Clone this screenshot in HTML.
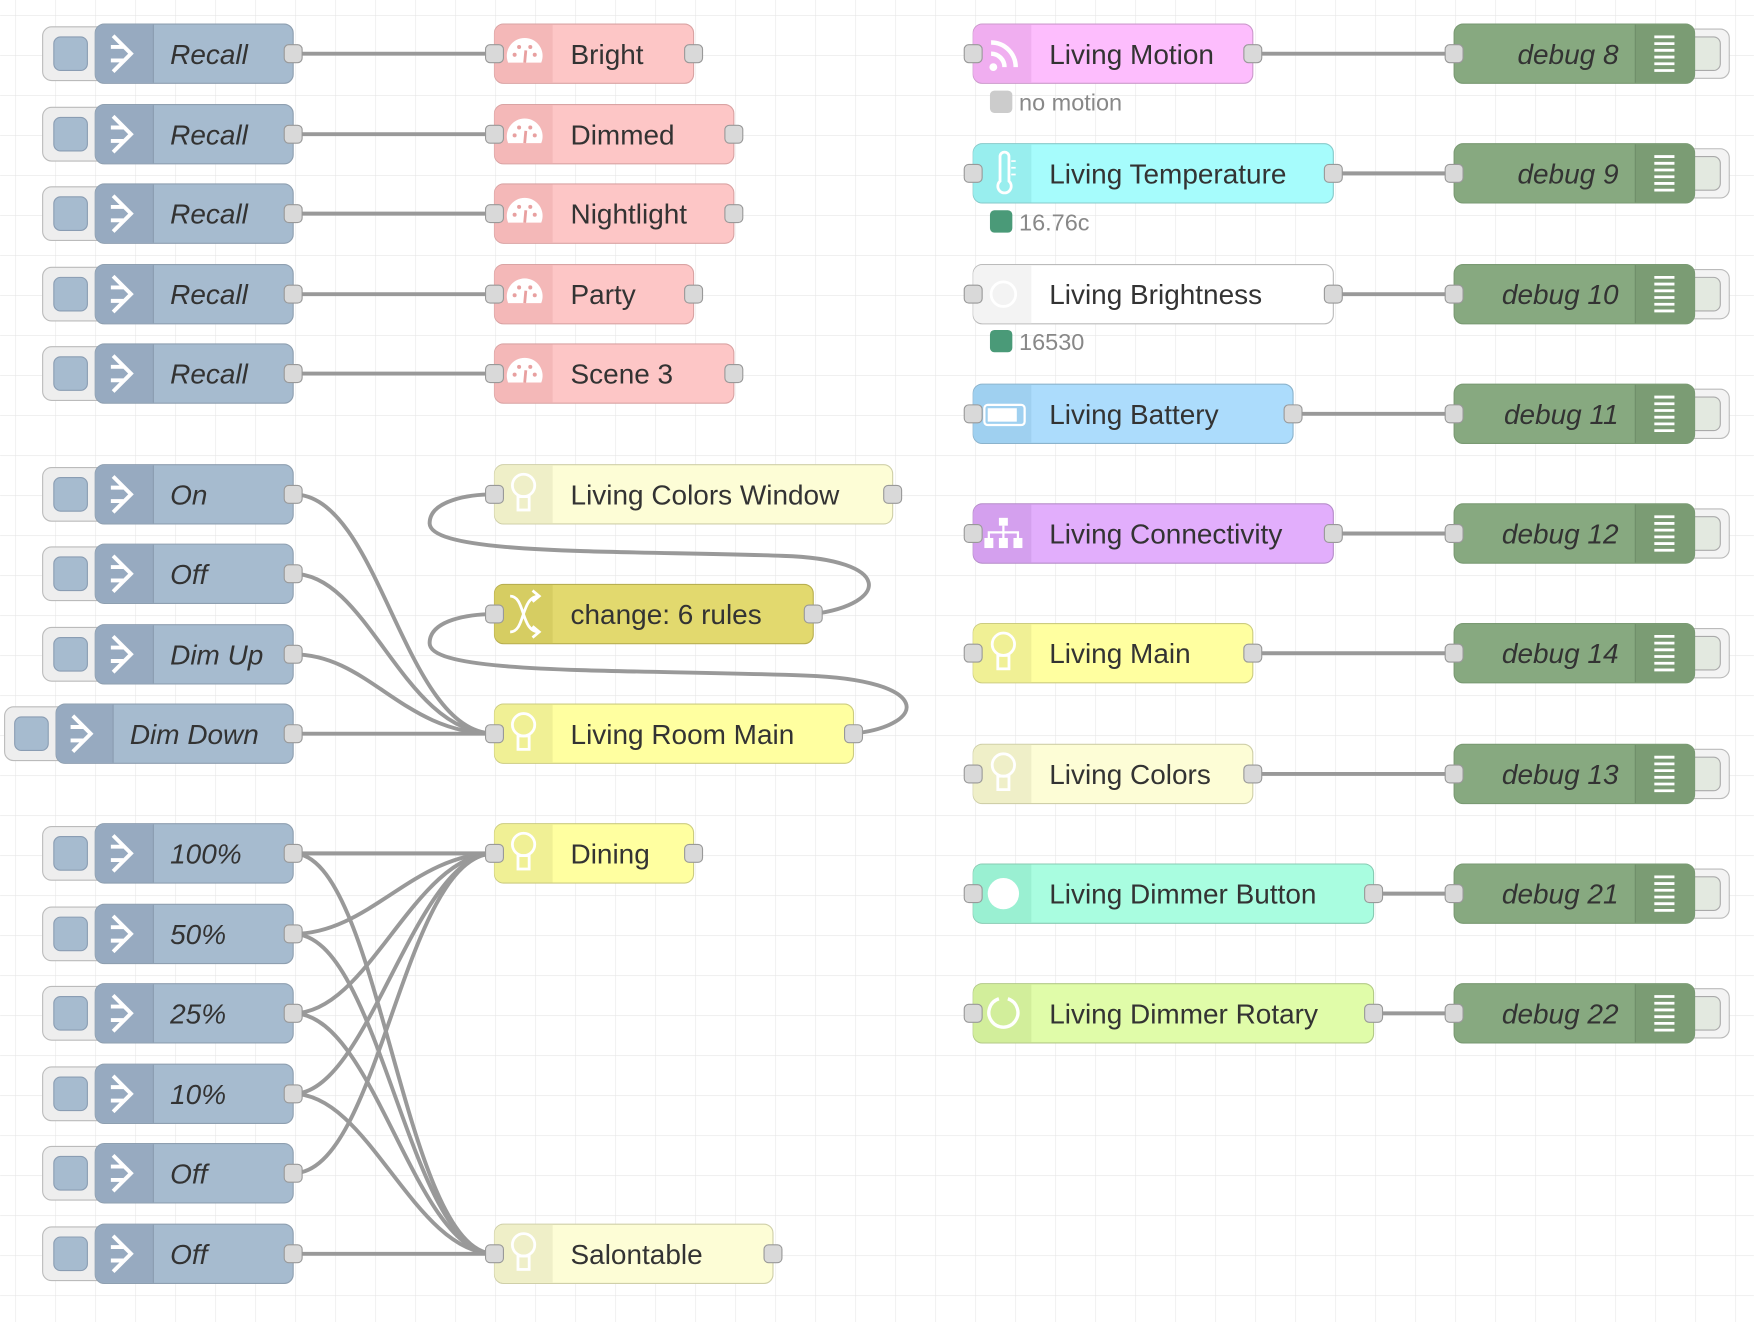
<!DOCTYPE html>
<html><head><meta charset="utf-8"><style>html,body{margin:0;padding:0;background:#fff;overflow:hidden}svg{display:block}</style></head>
<body>
<svg xmlns="http://www.w3.org/2000/svg" width="1754" height="1322" viewBox="0 0 1568 1182" font-family="Liberation Sans, sans-serif">
<defs>
<pattern id="grid" x="13.4" y="13.4" width="35.77" height="35.77" patternUnits="userSpaceOnUse">
<path d="M0 0 H35.77 M0 0 V35.77" stroke="#e6e6e6" stroke-width="1" fill="none"/>
</pattern>
<g id="port"><rect x="-8" y="-8" width="16" height="16" rx="4" fill="#d9d9d9" stroke="#999" stroke-width="1"/></g>
<g id="inj">
<rect x="38" y="-24" width="60" height="48" rx="8" fill="#eeeeee" stroke="#bbb"/>
<rect x="48" y="-15" width="30" height="30" rx="6" fill="#a6bbcf" stroke="#8a9db3"/>
<rect x="85" y="-26.5" width="177" height="53" rx="8" fill="#a6bbcf" stroke="#8e9fb0"/>
<path d="M93 -26 H137 V26 H93 A8 8 0 0 1 85 18 V-18 A8 8 0 0 1 93 -26Z" fill="#97aac0"/>
<line x1="137" y1="-26" x2="137" y2="26" stroke="#8a9cb0" stroke-width="1"/>
<path d="M101 -16 L117 0 L101 16 M99 -6 H110 M99 6 H110" stroke="#fff" stroke-width="3.5" fill="none"/>
<use href="#port" x="262"/>
</g>
<g id="injd">
<rect x="4" y="-24" width="60" height="48" rx="8" fill="#eeeeee" stroke="#bbb"/>
<rect x="13" y="-15" width="30" height="30" rx="6" fill="#a6bbcf" stroke="#8a9db3"/>
<rect x="50" y="-26.5" width="212" height="53" rx="8" fill="#a6bbcf" stroke="#8e9fb0"/>
<path d="M58 -26 H101 V26 H58 A8 8 0 0 1 50 18 V-18 A8 8 0 0 1 58 -26Z" fill="#97aac0"/>
<line x1="101" y1="-26" x2="101" y2="26" stroke="#8a9cb0"/>
<path d="M65 -16 L81 0 L65 16 M63 -6 H74 M63 6 H74" stroke="#fff" stroke-width="3.5" fill="none"/>
<use href="#port" x="262"/>
</g>
<g id="dbg">
<rect x="1490" y="-22" width="56" height="44" rx="8" fill="#f3f3f3" stroke="#bbb"/>
<rect x="1508" y="-15" width="30" height="30" rx="6" fill="#e3e9e0" stroke="#aaa"/>
<rect x="1300" y="-26.5" width="215" height="53" rx="8" fill="#87a980" stroke="#7a9a73"/>
<path d="M1462 -26 H1507 A8 8 0 0 1 1515 -18 V18 A8 8 0 0 1 1507 26 H1462Z" fill="#7b9c74"/>
<line x1="1462" y1="-26" x2="1462" y2="26" stroke="#6f8d69"/>
<path d="M1479 -15 H1497 M1479 -9 H1497 M1479 -3 H1497 M1479 3 H1497 M1479 9 H1497 M1479 15 H1497" stroke="#fff" stroke-width="2.5"/>
<use href="#port" x="1300"/>
</g>
<g id="gauge"><path d="M-14.8 6 A16 16 0 1 1 14.8 6 Z" fill="#fff"/><circle cx="-9" cy="-1" r="1.8" fill="#e8a0a0"/><circle cx="-5" cy="-8" r="1.8" fill="#e8a0a0"/><circle cx="5" cy="-8" r="1.8" fill="#e8a0a0"/><circle cx="9" cy="-1" r="1.8" fill="#e8a0a0"/><path d="M0 6 L1 -5" stroke="#e8a0a0" stroke-width="2.5"/></g>
<g id="bulb"><circle cx="0" cy="-6" r="10" fill="none" stroke="#fff" stroke-width="2.5"/><rect x="-5" y="4" width="10" height="12" fill="none" stroke="#fff" stroke-width="2.5"/></g>
</defs>
<rect width="1568" height="1182" fill="#fff"/>
<rect width="1568" height="1182" fill="url(#grid)"/>

<g fill="none" stroke="#999" stroke-width="3.5">
<path d="M262 48 H442"/><path d="M262 120 H442"/><path d="M262 191 H442"/><path d="M262 263 H442"/><path d="M262 334 H442"/>
<path d="M262 442 C340 442 360 656 442 656"/>
<path d="M262 513 C330 513 360 656 442 656"/>
<path d="M262 585 C330 585 360 656 442 656"/>
<path d="M262 656 H442"/>
<path d="M727 549 C795 540 800 500 700 497 C560 492 385 497 384 468 C384 447 420 442 442 442"/>
<path d="M763 656 C830 648 835 608 720 604 C560 598 384 604 384 575 C384 554 420 549 442 549"/>
<path d="M1120 48 H1300"/><path d="M1192 155 H1300"/><path d="M1192 263 H1300"/><path d="M1156 370 H1300"/><path d="M1192 477 H1300"/><path d="M1120 584 H1300"/><path d="M1120 692 H1300"/><path d="M1228 799 H1300"/><path d="M1228 906 H1300"/>
<path d="M262 763 H442"/>
<path d="M262 835 C330 835 370 763 442 763"/>
<path d="M262 906 C330 906 370 763 442 763"/>
<path d="M262 978 C330 978 370 763 442 763"/>
<path d="M262 1049 C340 1049 360 763 442 763"/>
<path d="M262 763 C340 763 360 1121 442 1121"/>
<path d="M262 835 C340 835 365 1121 442 1121"/>
<path d="M262 906 C335 906 370 1121 442 1121"/>
<path d="M262 978 C330 978 370 1121 442 1121"/>
<path d="M262 1121 H442"/>
</g>

<use href="#inj" y="48"/><use href="#inj" y="120"/><use href="#inj" y="191"/><use href="#inj" y="263"/><use href="#inj" y="334"/>
<use href="#inj" y="442"/><use href="#inj" y="513"/><use href="#inj" y="585"/><use href="#injd" y="656"/>
<use href="#inj" y="763"/><use href="#inj" y="835"/><use href="#inj" y="906"/><use href="#inj" y="978"/><use href="#inj" y="1049"/><use href="#inj" y="1121"/>
<g font-size="25" font-style="italic" fill="#333">
<text x="152" y="57">Recall</text><text x="152" y="129">Recall</text><text x="152" y="200">Recall</text><text x="152" y="272">Recall</text><text x="152" y="343">Recall</text>
<text x="152" y="451">On</text><text x="152" y="522">Off</text><text x="152" y="594">Dim Up</text><text x="116" y="665">Dim Down</text>
<text x="152" y="772">100%</text><text x="152" y="844">50%</text><text x="152" y="915">25%</text><text x="152" y="987">10%</text><text x="152" y="1058">Off</text><text x="152" y="1130">Off</text>
</g>

<g stroke="#d9a3a3">
<rect x="442" y="21.5" width="178" height="53" rx="8" fill="#fdc6c6"/>
<rect x="442" y="93.5" width="214" height="53" rx="8" fill="#fdc6c6"/>
<rect x="442" y="164.5" width="214" height="53" rx="8" fill="#fdc6c6"/>
<rect x="442" y="236.5" width="178" height="53" rx="8" fill="#fdc6c6"/>
<rect x="442" y="307.5" width="214" height="53" rx="8" fill="#fdc6c6"/>
</g>
<g fill="#f4b8b8">
<path d="M450 22 H494 V74 H450 A8 8 0 0 1 442 66 V30 A8 8 0 0 1 450 22Z"/>
<path d="M450 94 H494 V146 H450 A8 8 0 0 1 442 138 V102 A8 8 0 0 1 450 94Z"/>
<path d="M450 165 H494 V217 H450 A8 8 0 0 1 442 209 V173 A8 8 0 0 1 450 165Z"/>
<path d="M450 237 H494 V289 H450 A8 8 0 0 1 442 281 V245 A8 8 0 0 1 450 237Z"/>
<path d="M450 308 H494 V360 H450 A8 8 0 0 1 442 352 V316 A8 8 0 0 1 450 308Z"/>
</g>
<use href="#gauge" x="469" y="50"/><use href="#gauge" x="469" y="122"/><use href="#gauge" x="469" y="193"/><use href="#gauge" x="469" y="265"/><use href="#gauge" x="469" y="336"/>
<use href="#port" x="442" y="48"/><use href="#port" x="620" y="48"/>
<use href="#port" x="442" y="120"/><use href="#port" x="656" y="120"/>
<use href="#port" x="442" y="191"/><use href="#port" x="656" y="191"/>
<use href="#port" x="442" y="263"/><use href="#port" x="620" y="263"/>
<use href="#port" x="442" y="334"/><use href="#port" x="656" y="334"/>

<rect x="442" y="415.5" width="356" height="53" rx="8" fill="#fdfdd6" stroke="#cfcfa8"/>
<path d="M450 416 H494 V468 H450 A8 8 0 0 1 442 460 V424 A8 8 0 0 1 450 416Z" fill="#efefc8"/>
<rect x="442" y="522.5" width="285" height="53" rx="8" fill="#e2d96e" stroke="#b8af50"/>
<path d="M450 523 H494 V575 H450 A8 8 0 0 1 442 567 V531 A8 8 0 0 1 450 523Z" fill="#d6cd62"/>
<path d="M456 533 C470 533 465 565 482 565 M456 565 C470 565 465 533 482 533 M476 528 L482 533 L476 538 M476 560 L482 565 L476 570" stroke="#fff" stroke-width="2.5" fill="none"/>
<rect x="442" y="629.5" width="321" height="53" rx="8" fill="#ffffa0" stroke="#cccc80"/>
<path d="M450 630 H494 V682 H450 A8 8 0 0 1 442 674 V638 A8 8 0 0 1 450 630Z" fill="#f0f095"/>
<rect x="442" y="736.5" width="178" height="53" rx="8" fill="#ffffa0" stroke="#cccc80"/>
<path d="M450 737 H494 V789 H450 A8 8 0 0 1 442 781 V745 A8 8 0 0 1 450 737Z" fill="#f0f095"/>
<rect x="442" y="1094.5" width="249" height="53" rx="8" fill="#fdfdd6" stroke="#cfcfa8"/>
<path d="M450 1095 H494 V1147 H450 A8 8 0 0 1 442 1139 V1103 A8 8 0 0 1 450 1095Z" fill="#efefc8"/>
<use href="#bulb" x="468" y="440"/><use href="#bulb" x="468" y="654"/><use href="#bulb" x="468" y="761"/><use href="#bulb" x="468" y="1119"/>
<use href="#port" x="442" y="442"/><use href="#port" x="798" y="442"/>
<use href="#port" x="442" y="549"/><use href="#port" x="727" y="549"/>
<use href="#port" x="442" y="656"/><use href="#port" x="763" y="656"/>
<use href="#port" x="442" y="763"/><use href="#port" x="620" y="763"/>
<use href="#port" x="442" y="1121"/><use href="#port" x="691" y="1121"/>
<g font-size="25" fill="#333">
<text x="510" y="57">Bright</text><text x="510" y="129">Dimmed</text><text x="510" y="200">Nightlight</text><text x="510" y="272">Party</text><text x="510" y="343">Scene 3</text>
<text x="510" y="451">Living Colors Window</text><text x="510" y="558">change: 6 rules</text><text x="510" y="665">Living Room Main</text><text x="510" y="772">Dining</text><text x="510" y="1130">Salontable</text>
</g>

<rect x="870" y="21.5" width="250" height="53" rx="8" fill="#fdbdfd" stroke="#cc99cc"/>
<path d="M878 22 H922 V74 H878 A8 8 0 0 1 870 66 V30 A8 8 0 0 1 878 22Z" fill="#f0aef0"/>
<circle cx="888" cy="60" r="3.5" fill="#fff"/><path d="M886 48 A12 12 0 0 1 898 60 M886 38 A22 22 0 0 1 908 60" stroke="#fff" stroke-width="4" fill="none"/>
<rect x="870" y="128.5" width="322" height="53" rx="8" fill="#a6fcfc" stroke="#86caca"/>
<path d="M878 129 H922 V181 H878 A8 8 0 0 1 870 173 V137 A8 8 0 0 1 878 129Z" fill="#98eeee"/>
<path d="M894 140 V162 A6 6 0 1 0 902 162 V140 A4 4 0 0 0 894 140Z" fill="none" stroke="#fff" stroke-width="2.5"/><path d="M904 144 H908 M904 150 H908 M904 156 H908" stroke="#fff" stroke-width="1.5"/>
<rect x="870" y="236.5" width="322" height="53" rx="8" fill="#ffffff" stroke="#bbb"/>
<path d="M878 237 H922 V289 H878 A8 8 0 0 1 870 281 V245 A8 8 0 0 1 878 237Z" fill="#f3f3f3"/>
<circle cx="897" cy="263" r="11" fill="none" stroke="#fff" stroke-width="2.5"/>
<rect x="870" y="343.5" width="286" height="53" rx="8" fill="#acdcfc" stroke="#8bb3cc"/>
<path d="M878 344 H922 V396 H878 A8 8 0 0 1 870 388 V352 A8 8 0 0 1 878 344Z" fill="#9fd0f0"/>
<rect x="880" y="362" width="36" height="18" rx="3" fill="none" stroke="#fff" stroke-width="2"/><rect x="883" y="365" width="26" height="12" fill="#fff"/>
<rect x="870" y="450.5" width="322" height="53" rx="8" fill="#e2aefc" stroke="#b58cc9"/>
<path d="M878 451 H922 V503 H878 A8 8 0 0 1 870 495 V459 A8 8 0 0 1 878 451Z" fill="#d4a0ee"/>
<g fill="#fff"><rect x="893" y="463" width="8" height="7"/><rect x="880" y="481" width="8" height="9"/><rect x="893" y="481" width="8" height="9"/><rect x="906" y="481" width="8" height="9"/></g>
<path d="M897 470 V481 M884 481 V476 H910 V481" stroke="#fff" stroke-width="2" fill="none"/>
<rect x="870" y="557.5" width="250" height="53" rx="8" fill="#ffffa0" stroke="#cccc80"/>
<path d="M878 558 H922 V610 H878 A8 8 0 0 1 870 602 V566 A8 8 0 0 1 878 558Z" fill="#f0f095"/>
<rect x="870" y="665.5" width="250" height="53" rx="8" fill="#fdfdd6" stroke="#cfcfa8"/>
<path d="M878 666 H922 V718 H878 A8 8 0 0 1 870 710 V674 A8 8 0 0 1 878 666Z" fill="#efefc8"/>
<use href="#bulb" x="897" y="582"/><use href="#bulb" x="897" y="690"/>
<rect x="870" y="772.5" width="358" height="53" rx="8" fill="#a9fde0" stroke="#88cbb3"/>
<path d="M878 773 H922 V825 H878 A8 8 0 0 1 870 817 V781 A8 8 0 0 1 878 773Z" fill="#9af0d2"/>
<circle cx="897" cy="799" r="14" fill="#fff"/>
<rect x="870" y="879.5" width="358" height="53" rx="8" fill="#e0fca9" stroke="#b3ca87"/>
<path d="M878 880 H922 V932 H878 A8 8 0 0 1 870 924 V888 A8 8 0 0 1 878 880Z" fill="#d2ee9b"/>
<path d="M893 893 A13 13 0 1 0 901 893" fill="none" stroke="#fff" stroke-width="3"/>
<use href="#port" x="870" y="48"/><use href="#port" x="1120" y="48"/>
<use href="#port" x="870" y="155"/><use href="#port" x="1192" y="155"/>
<use href="#port" x="870" y="263"/><use href="#port" x="1192" y="263"/>
<use href="#port" x="870" y="370"/><use href="#port" x="1156" y="370"/>
<use href="#port" x="870" y="477"/><use href="#port" x="1192" y="477"/>
<use href="#port" x="870" y="584"/><use href="#port" x="1120" y="584"/>
<use href="#port" x="870" y="692"/><use href="#port" x="1120" y="692"/>
<use href="#port" x="870" y="799"/><use href="#port" x="1228" y="799"/>
<use href="#port" x="870" y="906"/><use href="#port" x="1228" y="906"/>
<g font-size="25" fill="#333">
<text x="938" y="57">Living Motion</text><text x="938" y="164">Living Temperature</text><text x="938" y="272">Living Brightness</text><text x="938" y="379">Living Battery</text><text x="938" y="486">Living Connectivity</text><text x="938" y="593">Living Main</text><text x="938" y="701">Living Colors</text><text x="938" y="808">Living Dimmer Button</text><text x="938" y="915">Living Dimmer Rotary</text>
</g>
<rect x="885" y="81" width="20" height="20" rx="4" fill="#ccc"/>
<rect x="885" y="188" width="20" height="20" rx="4" fill="#4a9a78"/>
<rect x="885" y="295" width="20" height="20" rx="4" fill="#4a9a78"/>
<g font-size="21" fill="#888"><text x="911" y="99">no motion</text><text x="911" y="206">16.76c</text><text x="911" y="313">16530</text></g>

<use href="#dbg" y="48"/><use href="#dbg" y="155"/><use href="#dbg" y="263"/><use href="#dbg" y="370"/><use href="#dbg" y="477"/><use href="#dbg" y="584"/><use href="#dbg" y="692"/><use href="#dbg" y="799"/><use href="#dbg" y="906"/>
<g font-size="25" font-style="italic" fill="#333" text-anchor="end">
<text x="1447" y="57">debug 8</text><text x="1447" y="164">debug 9</text><text x="1447" y="272">debug 10</text><text x="1447" y="379">debug 11</text><text x="1447" y="486">debug 12</text><text x="1447" y="593">debug 14</text><text x="1447" y="701">debug 13</text><text x="1447" y="808">debug 21</text><text x="1447" y="915">debug 22</text>
</g>
</svg>
</body></html>
